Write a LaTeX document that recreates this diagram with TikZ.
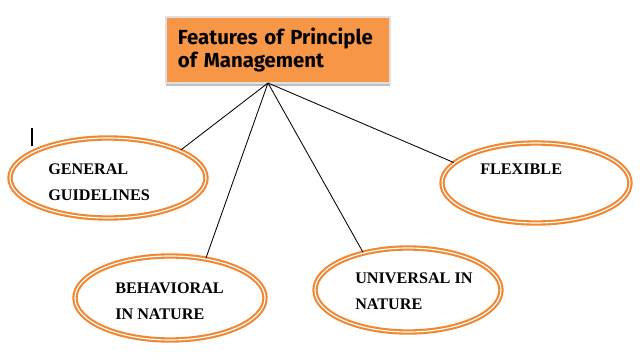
\documentclass[tikz,border=0pt]{standalone}
\usepackage{fontspec}
\setmainfont{Liberation Serif}
\newfontfamily\titlefont{Fira Sans}
\definecolor{boxorange}{RGB}{247,150,70}
\definecolor{ringorange}{RGB}{240,135,50}
\usetikzlibrary{shapes.geometric, shadows}

\begin{document}
\begin{tikzpicture}[x=0.025cm, y=-0.025cm,
        titlebox/.style={rectangle, fill=boxorange, draw=black!12, line width=1.2pt,
                    minimum width=5.6cm, minimum height=1.65cm, inner xsep=0.3cm,
                    text width=5.0cm, align=left,
                    font=\titlefont\bfseries\fontsize{14.5}{17}\selectfont,
                    drop shadow={shadow xshift=0pt, shadow yshift=-2pt, fill=black!25, opacity=1}},
        ring/.style={ellipse, draw=ringorange, line width=1.5pt, double=white,
                     double distance=0.8pt, inner sep=0pt},
        lbl/.style={anchor=base west, inner sep=0pt, align=left,
                    font=\bfseries\fontsize{11.5}{18}\selectfont},
        link/.style={black, line width=0.6pt}
    ]
        \useasboundingbox (0,0) rectangle (640,361);

        % Title
        \node[titlebox] (title) at (278,50) {\mbox{Features of Principle}\\of Management};
        \coordinate (apex) at (268,83);

        % Features
        \node[ring, minimum width=4.9cm, minimum height=2.0cm] (general) at (108,178) {};
        \node[ring, minimum width=4.7cm, minimum height=2.0cm] (flexible) at (536,183) {};
        \node[ring, minimum width=4.75cm, minimum height=2.1cm] (behavioral) at (170,298) {};
        \node[ring, minimum width=4.65cm, minimum height=2.1cm] (universal) at (408,290) {};

        \node[lbl] (generaltxt) at (48,200) {GENERAL\\GUIDELINES};
        \node[lbl] (flexibletxt) at (480,175) {FLEXIBLE};
        \node[lbl] (behavioraltxt) at (115,319) {BEHAVIORAL\\IN NATURE};
        \node[lbl] (universaltxt) at (355,309) {UNIVERSAL IN\\NATURE};

        \draw[link] (apex) -- (general.21);
        \draw[link] (apex) -- (behavioral.48);
        \draw[link] (apex) -- (universal.140);
        \draw[link] (apex) -- (flexible.166);

        % cursor
        \draw[black, line width=1pt] (32,128) -- (32,146);
    \end{tikzpicture}
\end{document}
